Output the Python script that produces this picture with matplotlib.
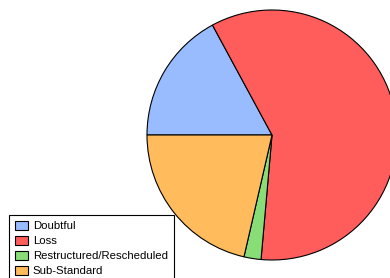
import numpy as np
import matplotlib
matplotlib.use('Agg')
import matplotlib.pyplot as plt

plt.rcParams['font.family'] = ['Liberation Sans', 'DejaVu Sans']

# Slice shares (percent)
labels = ['Doubtful', 'Loss', 'Restructured/Rescheduled', 'Sub-Standard']
shares = [17.1, 59.3, 2.2, 21.4]
colors = ['#99bbff', '#ff5c5c', '#88dd77', '#ffbb5c']

W, H = 390, 278
fig = plt.figure(figsize=(W/100, H/100), dpi=100)

# pie centre (272,135), radius 125 px
cx, cy, r = 272, 135, 125
ax = fig.add_axes([(cx-r)/W, (H-cy-r)/H, 2*r/W, 2*r/H])
wedges, _ = ax.pie(shares, colors=colors, startangle=180, counterclock=False,
                   wedgeprops=dict(edgecolor='black', linewidth=0.8))
ax.set_xlim(-1, 1)
ax.set_ylim(-1, 1)
ax.set_aspect('equal')
ax.axis('off')

leg = fig.legend(wedges, labels, loc='upper left',
                 bbox_to_anchor=(9/W, 1-215/H), bbox_transform=fig.transFigure,
                 borderaxespad=0, fancybox=False, edgecolor='black',
                 fontsize=8.2, handlelength=1.15, handleheight=0.85,
                 handletextpad=0.45, labelspacing=0.4, borderpad=0.5,
                 framealpha=1)
leg.get_frame().set_linewidth(0.8)

fig.savefig('out.png', dpi=100)
